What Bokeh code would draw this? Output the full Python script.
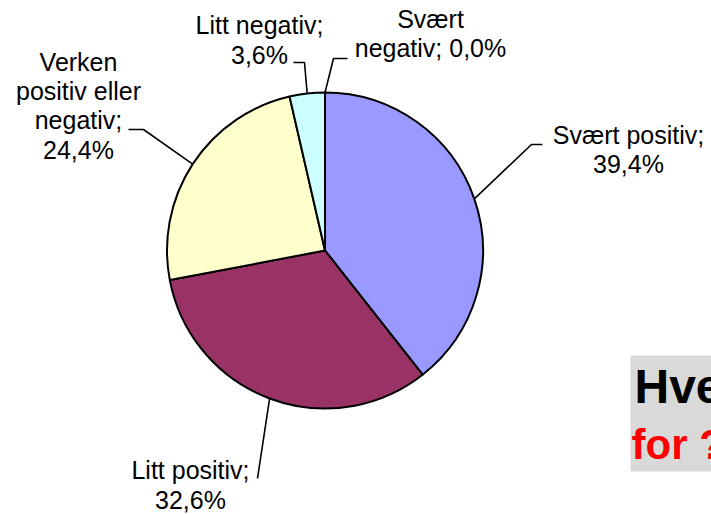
import math
from bokeh.plotting import figure
from bokeh.models import Range1d, ColumnDataSource
from bokeh.core.properties import value
from bokeh.embed import file_html
from bokeh.resources import INLINE

# ---- data ----
categories = ["Svært positiv", "Litt positiv", "Verken positiv eller negativ", "Litt negativ", "Svært negativ"]
values = [39.4, 32.6, 24.4, 3.6, 0.0]
colors = ["#9999FF", "#993366", "#FFFFCC", "#CCFFFF", "#FFFFFF"]
label_names = [["Svært positiv;"], ["Litt positiv;"], ["Verken", "positiv eller", "negativ;"], ["Litt negativ;"], ["Svært", "negativ;"]]
pct_same_line = [False, False, False, False, True]
title_lines = ["Hve", "for ?"]

# ---- layout (reference pixel space; y is flipped below) ----
W, H = 711, 514
CX, CY, R = 324.5, 250.0, 158.0
LABEL_SIZE = 25
label_pos = [  # (center x, first baseline, line step)
    (628, 143, 29),
    (190, 478, 30),
    (78, 70, 29.2),
    (259, 33, 30),
    (430, 27, 29),
]
leader_tail = [
    [(531, 144), (542, 144)],
    [(257, 478)],
    [(143, 129), (128, 129)],
    [(304, 62), (293, 62)],
    [(333, 58), (347, 58)],
]

def fy(py):
    return H - py

def ty(baseline_py, size):
    # compensate for the renderer placing the alphabetic baseline lower
    return fy(baseline_py - 0.34 * size)

p = figure(width=W, height=H, x_range=Range1d(0, W), y_range=Range1d(0, H),
           output_backend="svg", toolbar_location=None, min_border=0,
           x_axis_location=None, y_axis_location=None)
p.grid.visible = False
p.outline_line_color = None
p.background_fill_color = "white"
p.border_fill_color = "white"

# ---- pie ----
total = sum(values)
starts, ends, mids = [], [], []
cum = 0.0
for v in values:
    a0 = math.pi / 2 - 2 * math.pi * cum / total
    cum += v
    a1 = math.pi / 2 - 2 * math.pi * cum / total
    starts.append(a0)
    ends.append(a1)
    mids.append((a0 + a1) / 2)

idx = [i for i, v in enumerate(values) if v > 0]
src = ColumnDataSource(dict(
    x=[CX] * len(idx), y=[fy(CY)] * len(idx),
    s=[starts[i] for i in idx], e=[ends[i] for i in idx],
    c=[colors[i] for i in idx],
))
p.wedge(x="x", y="y", radius=R, start_angle="s", end_angle="e", direction="clock",
        fill_color="c", line_color="black", line_width=2, source=src)

# ---- leaders and labels ----
font = value("Liberation Sans")
for i, v in enumerate(values):
    ex = CX + R * math.cos(mids[i])
    ey = fy(CY) + R * math.sin(mids[i])
    xs = [ex] + [q[0] for q in leader_tail[i]]
    ys = [ey] + [fy(q[1]) for q in leader_tail[i]]
    p.line(xs, ys, line_color="black", line_width=1.6)

    pct = f"{v:.1f}".replace(".", ",") + "%"
    lines = list(label_names[i])
    if pct_same_line[i]:
        lines[-1] = lines[-1] + " " + pct
    else:
        lines.append(pct)
    cx, b0, step = label_pos[i]
    p.text(x=[cx] * len(lines), y=[ty(b0 + k * step, LABEL_SIZE) for k in range(len(lines))], text=lines,
           text_font=font, text_font_size=f"{LABEL_SIZE}px", text_align="center",
           text_baseline="alphabetic", text_color="black")

# ---- grey title box (cut off at the right edge) ----
p.quad(left=[630], right=[760], top=[fy(355)], bottom=[fy(471)], fill_color="#D9D9D9", line_color=None)
p.text(x=[634], y=[ty(402, 48)], text=[title_lines[0]], text_font=font, text_font_size="48px",
       text_font_style="bold", text_color="black", text_baseline="alphabetic")
p.text(x=[631], y=[ty(458, 42)], text=[title_lines[1]], text_font=font, text_font_size="42px",
       text_font_style="bold", text_color="#FF0000", text_baseline="alphabetic")

open("out.html", "w").write(file_html(p, INLINE))
